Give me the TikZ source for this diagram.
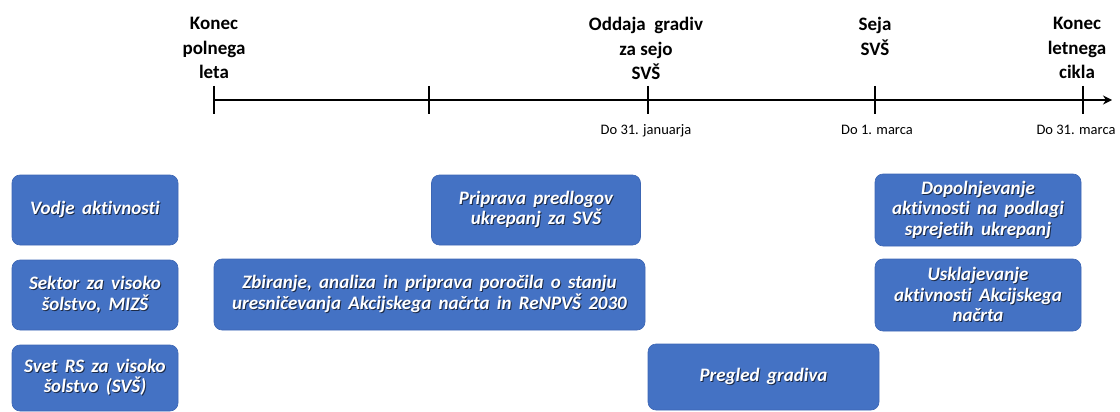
\documentclass[tikz,border=0pt]{standalone}
\usepackage{fontspec}
\setmainfont{Carlito}[Ligatures=NoCommon]
\newfontfamily\boxfont{Carlito}[Ligatures=NoCommon, WordSpace=1.7]
\usetikzlibrary{arrows.meta}
\definecolor{boxblue}{HTML}{4472C4}
\definecolor{boxedge}{HTML}{3C66B4}
\definecolor{shadowc}{HTML}{1B2A48}
\newcommand\shd[1]{\makebox[0pt][l]{\kern1pt\raisebox{-1pt}{\textcolor{shadowc}{#1}}}#1}
\begin{document}
\begin{tikzpicture}[x=1pt,y=-1pt,
  box/.style={draw=boxedge, line width=0.6pt, fill=boxblue, rounded corners=8pt,
    text=white, font=\boxfont\fontsize{19}{20.5}\selectfont\bfseries\itshape,
    align=center, inner sep=0pt},
  head/.style={font=\fontsize{19}{24.5}\selectfont\bfseries, align=center,
    anchor=north, inner sep=0pt},
  datelbl/.style={font=\fontsize{14.5}{16}\selectfont, inner sep=0pt, anchor=base},
  tickline/.style={line width=2.6pt},
  axis/.style={line width=2.2pt, -{Stealth[length=9pt,width=9pt]}}
]
\useasboundingbox (0,0) rectangle (1120,412);

% timeline
\coordinate (t0) at (214,100);
\coordinate (t1) at (429,100);
\coordinate (t2) at (648,100);
\coordinate (t3) at (875,100);
\coordinate (t4) at (1083,100);
\coordinate (tend) at (1112,100);
\draw[axis] (t0) -- (tend);
\foreach \t in {t0,t1,t2,t3,t4}
  \draw[tickline] ([yshift=14pt]\t) -- ([yshift=-14pt]\t);

% headings
\node[head] (h0) at (214,17) {Konec\\polnega\\leta};
\node[head] (h2) at (646,17) {Oddaja\ \ gradiv\\za sejo\\SVŠ};
\node[head] (h3) at (875,17) {Seja\\SVŠ};
\node[head] (h4) at (1077,17) {Konec\\letnega\\cikla};

% dates
\node[datelbl] (d2) at (646,134) {Do 31. januarja};
\node[datelbl] (d3) at (877,134) {Do 1. marca};
\node[datelbl] (d4) at (1076,134) {Do 31. marca};

% row labels
\node[box, minimum width=166pt, minimum height=70pt] (vodje) at (95,210)
  {\shd{Vodje aktivnosti}};
\node[box, minimum width=166pt, minimum height=70pt] (sektor) at (95,295)
  {\shd{Sektor za visoko}\\\shd{šolstvo, MIZŠ}};
\node[box, minimum width=166pt, minimum height=66pt] (svet) at (95,378)
  {\shd{Svet RS za visoko}\\\shd{šolstvo (SVŠ)}};

% activities
\node[box, minimum width=209pt, minimum height=70pt] (priprava) at (536,210)
  {\shd{Priprava predlogov}\\\shd{ukrepanj za SVŠ}};
\node[box, minimum width=431pt, minimum height=71pt] (zbiranje) at (429.5,294.5)
  {\shd{Zbiranje, analiza in priprava poročila o stanju}\\\shd{uresničevanja Akcijskega načrta in ReNPVŠ 2030}};
\node[box, minimum width=231pt, minimum height=66pt] (pregled) at (763.5,377)
  {\shd{Pregled gradiva}};
\node[box, minimum width=206pt, minimum height=72pt] (dopol) at (978,210)
  {\shd{Dopolnjevanje}\\\shd{aktivnosti na podlagi}\\\shd{sprejetih ukrepanj}};
\node[box, minimum width=206pt, minimum height=72pt] (uskl) at (978,295)
  {\shd{Usklajevanje}\\\shd{aktivnosti Akcijskega}\\\shd{načrta}};
\end{tikzpicture}
\end{document}
